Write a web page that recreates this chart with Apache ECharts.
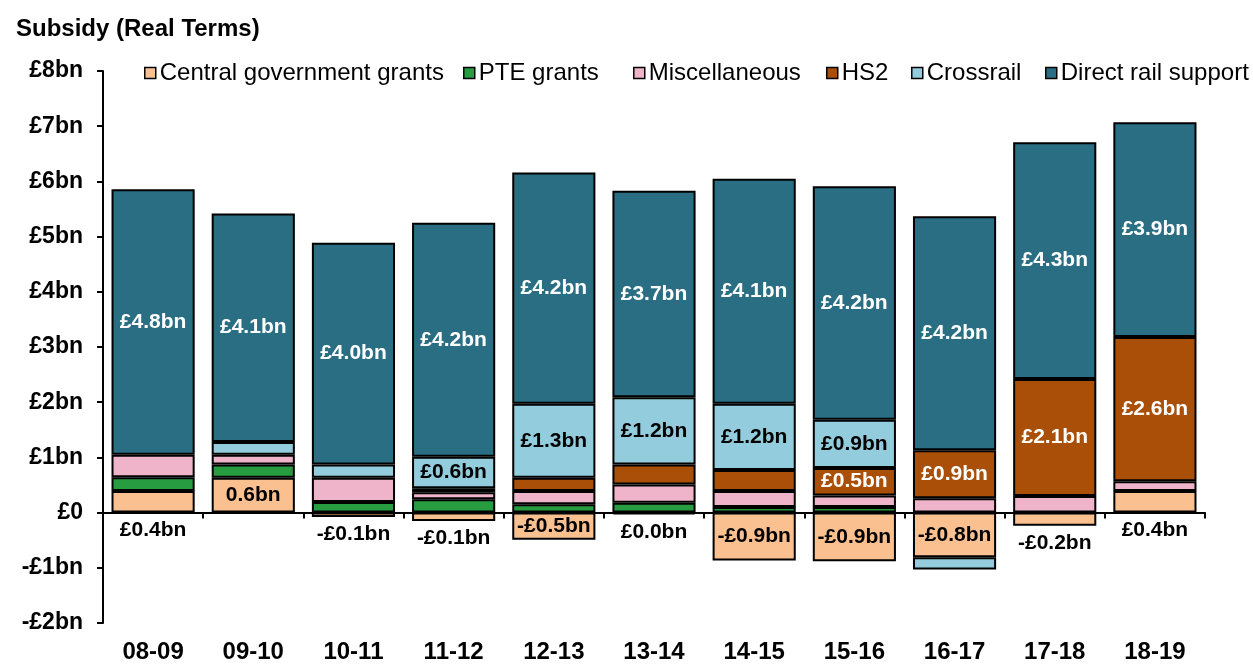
<!DOCTYPE html>
<html>
<head>
<meta charset="utf-8">
<script src="https://cdn.jsdelivr.net/npm/echarts@6/dist/echarts.min.js"></script>
<style>
html, body { margin: 0; padding: 0; background: #fff; }
#chart { width: 1253px; height: 664px; }
</style>
</head>
<body>
<div id="chart"></div>
<script>
// data (£bn, real terms)
var years = ['08-09', '09-10', '10-11', '11-12', '12-13', '13-14', '14-15', '15-16', '16-17', '17-18', '18-19'];
var centralGov = [0.39, 0.63, -0.08, -0.15, -0.49, -0.03, -0.87, -0.88, -0.81, -0.24, 0.39];
var centralGovLabels = ['£0.4bn', '0.6bn', '-£0.1bn', '-£0.1bn', '-£0.5bn', '£0.0bn', '-£0.9bn', '-£0.9bn', '-£0.8bn', '-£0.2bn', '£0.4bn'];
var pteGrants = [0.25, 0.24, 0.19, 0.24, 0.15, 0.18, 0.10, 0.10, null, null, null];
var miscellaneous = [0.41, 0.18, 0.44, 0.13, 0.24, 0.33, 0.29, 0.21, 0.26, 0.30, 0.18];
var hs2 = [null, null, null, 0.07, 0.24, 0.36, 0.38, 0.50, 0.87, 2.12, 2.61];
var crossrail = [null, 0.23, 0.24, 0.57, 1.34, 1.22, 1.20, 0.87, -0.22, null, null];
var directRail = [4.81, 4.14, 4.02, 4.24, 4.19, 3.74, 4.08, 4.23, 4.24, 4.29, 3.89];

var names = ['Central government grants', 'PTE grants', 'Miscellaneous', 'HS2', 'Crossrail', 'Direct rail support'];
var colors = ['#FAC090', '#289C40', '#EFB4C9', '#A94F07', '#93CDDD', '#2A6E84'];

var FONT = '"Liberation Sans", Arial, sans-serif';

// which segments get a value label
var cgInside = [1, 4, 6, 7, 8];
var hs2Shown = [7, 8, 9, 10];
var crossrailShown = [3, 4, 5, 6, 7];

function bnLabel(v) {
	return '£' + v.toFixed(1) + 'bn';
}

function labelStyle(color, formatter) {
	return {
		show: true,
		position: 'inside',
		color: color,
		fontFamily: FONT,
		fontWeight: 'bold',
		fontSize: 21,
		formatter: formatter
	};
}

function makeBar(idx, data, label) {
	return {
		name: names[idx],
		type: 'bar',
		stack: 'total',
		barCategoryGap: '17%',
		itemStyle: { color: colors[idx], borderColor: '#000', borderWidth: 2 },
		label: label,
		data: data
	};
}

var cgData = centralGov.map(function (v, i) {
	return {
		value: v,
		label: cgInside.indexOf(i) >= 0 ? { position: 'inside' } : { position: 'bottom', distance: 7 }
	};
});

var series = [
	makeBar(0, cgData, labelStyle('#000', function (p) { return centralGovLabels[p.dataIndex]; })),
	makeBar(1, pteGrants, { show: false }),
	makeBar(2, miscellaneous, { show: false }),
	makeBar(3, hs2, labelStyle('#fff', function (p) {
		return hs2Shown.indexOf(p.dataIndex) >= 0 ? bnLabel(p.value) : '';
	})),
	makeBar(4, crossrail, labelStyle('#000', function (p) {
		return crossrailShown.indexOf(p.dataIndex) >= 0 ? bnLabel(p.value) : '';
	})),
	makeBar(5, directRail, labelStyle('#fff', function (p) { return bnLabel(p.value); }))
];

// one legend per item so each sits where the original puts it
var legendLeft = [139, 458, 628, 821, 906, 1040];
var legends = names.map(function (n, i) {
	return {
		data: [n],
		left: legendLeft[i],
		top: 56,
		icon: 'rect',
		itemWidth: 11,
		itemHeight: 11,
		itemStyle: { borderColor: '#000', borderWidth: 1.5 },
		textStyle: { fontFamily: FONT, fontSize: 24, color: '#000', padding: [0, 0, 0, -1] },
		selectedMode: false
	};
});

var option = {
	animation: false,
	backgroundColor: '#fff',
	title: {
		text: 'Subsidy (Real Terms)',
		left: 11,
		top: 12,
		textStyle: { fontFamily: FONT, fontSize: 24, fontWeight: 'bold', color: '#000' }
	},
	legend: legends,
	grid: { left: 103, right: 48, top: 71, bottom: 39, containLabel: false },
	xAxis: [
		{
			type: 'category',
			data: years,
			axisLine: { onZero: true, lineStyle: { color: '#000', width: 2 } },
			axisTick: { show: true, length: 6, lineStyle: { color: '#000', width: 2 } },
			axisLabel: { show: false }
		},
		{
			type: 'category',
			data: years,
			position: 'bottom',
			axisLine: { show: false, onZero: false },
			axisTick: { show: false },
			axisLabel: { margin: 17, fontFamily: FONT, fontSize: 24, fontWeight: 'bold', color: '#000' }
		}
	],
	yAxis: {
		type: 'value',
		min: -2,
		max: 8,
		interval: 1,
		axisLine: { show: true, lineStyle: { color: '#000', width: 2 } },
		axisTick: { show: true, length: 6, lineStyle: { color: '#000', width: 2 } },
		splitLine: { show: false },
		axisLabel: {
			margin: 20,
			fontFamily: FONT,
			fontSize: 23,
			fontWeight: 'bold',
			color: '#000',
			padding: [4, 0, 0, 0],
			formatter: function (v) {
				if (v === 0) return '£0';
				return (v < 0 ? '-£' + (-v) : '£' + v) + 'bn';
			}
		}
	},
	series: series
};

var myChart = echarts.init(document.getElementById('chart'));
myChart.setOption(option);
</script>
</body>
</html>
